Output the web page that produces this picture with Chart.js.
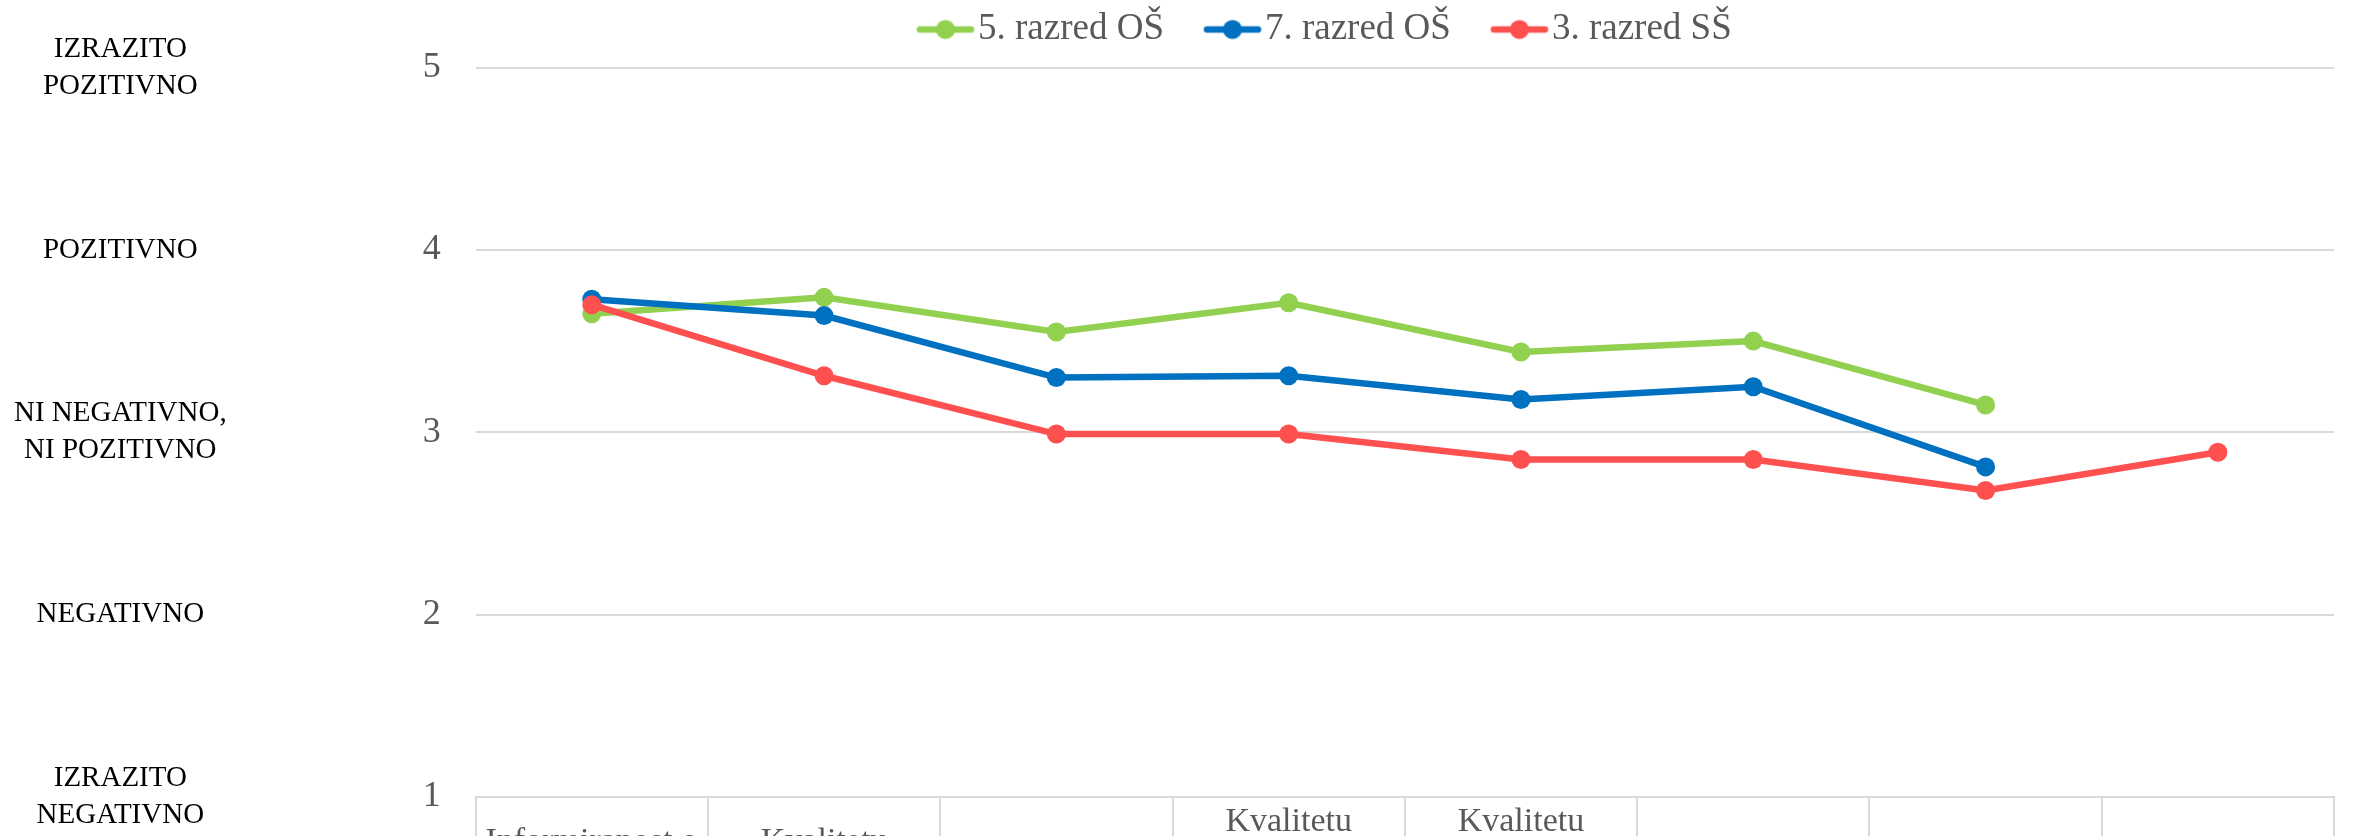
<!DOCTYPE html>
<html>
<head>
<meta charset="utf-8">
<script src="https://cdn.jsdelivr.net/npm/chart.js@4.4.0/dist/chart.umd.min.js"></script>
<style>
  html, body { margin: 0; padding: 0; background: #fff; overflow: hidden; }
  #wrap { position: relative; width: 2356px; height: 950px; }
</style>
</head>
<body>
<div id="wrap"><canvas id="lineChart"></canvas></div>
<script>
// =====================
// DATA
// =====================
// category labels are cut off by the bottom edge, only the first lines show
const categories = [
  ["Informiranost o", "", ""],
  ["Kvalitetu", "", ""],
  ["", ""],
  ["Kvalitetu", "", "", ""],
  ["Kvalitetu", "", "", ""],
  ["", ""],
  ["", ""],
  ["", ""]
];
const seriesNames = ["5. razred OŠ", "7. razred OŠ", "3. razred SŠ"];
const grade5 = [3.65, 3.74, 3.55, 3.71, 3.44, 3.50, 3.15, null];
const grade7 = [3.73, 3.64, 3.30, 3.31, 3.18, 3.25, 2.81, null];
const grade3ss = [3.70, 3.31, 2.99, 2.99, 2.85, 2.85, 2.68, 2.89];
const scaleTicks = [1, 2, 3, 4, 5];
const levelLabels = [
  ["IZRAZITO", "NEGATIVNO"],
  ["NEGATIVNO"],
  ["NI NEGATIVNO,", "NI POZITIVNO"],
  ["POZITIVNO"],
  ["IZRAZITO", "POZITIVNO"]
];

const colors = ["#92D050", "#0070C0", "#FF5050"];
const gridColor = "#D9D9D9";
const textGray = "#595959";

Chart.defaults.font.family = "'Liberation Serif', 'DejaVu Serif', serif";

// legend marker: short line with a dot, like the Excel legend
function makeMarker(color) {
  const c = document.createElement("canvas");
  c.width = 110;
  c.height = 24;
  const g = c.getContext("2d");
  const a = 48.25;
  g.strokeStyle = color;
  g.lineWidth = 6.5;
  g.lineCap = "round";
  g.beginPath();
  g.moveTo(a + 3, 12);
  g.lineTo(a + 54, 12);
  g.stroke();
  g.fillStyle = color;
  g.beginPath();
  g.arc(a + 28.5, 12, 9.5, 0, Math.PI * 2);
  g.fill();
  return c;
}
const markers = colors.map(makeMarker);

// legend needs some air below it and sits off-centre in the original
const legendTweak = {
  id: "legendTweak",
  afterInit(chart) {
    const legend = chart.legend;
    const fit = legend.fit;
    legend.fit = function () {
      fit.call(this);
      this.height += 9.7;
    };
  },
  afterLayout(chart) {
    chart.legend.left = 877;
  }
};

const ctx = document.getElementById("lineChart").getContext("2d");

const lineChart = new Chart(ctx, {
  type: "line",
  data: {
    labels: categories,
    datasets: [grade5, grade7, grade3ss].map((data, i) => ({
      label: seriesNames[i],
      data,
      borderColor: colors[i],
      backgroundColor: colors[i],
      pointBackgroundColor: colors[i],
      pointBorderColor: colors[i],
      borderWidth: 6.5,
      pointRadius: 9.5,
      pointBorderWidth: 0,
      tension: 0,
      fill: false,
      order: 3 - i
    }))
  },
  options: {
    responsive: true,
    maintainAspectRatio: false,
    animation: false,
    layout: { padding: { left: 0, right: 22, top: 0, bottom: 0 } },
    plugins: {
      tooltip: { enabled: false },
      legend: {
        position: "top",
        align: "start",
        labels: {
          font: { size: 37 },
          color: textGray,
          padding: 11,
          usePointStyle: true,
          pointStyleWidth: 71.5,
          sort: (a, b) => a.datasetIndex - b.datasetIndex,
          generateLabels: chart => {
            const items = Chart.defaults.plugins.legend.labels.generateLabels(chart);
            items.forEach(it => { it.pointStyle = markers[it.datasetIndex]; });
            return items;
          }
        }
      }
    },
    scales: {
      x: {
        offset: true,
        border: { display: true, color: gridColor, width: 2 },
        grid: {
          offset: true,
          color: gridColor,
          lineWidth: 2,
          drawOnChartArea: false,
          drawTicks: true,
          tickLength: 60
        },
        ticks: {
          autoSkip: false,
          maxRotation: 0,
          minRotation: 0,
          crossAlign: "center",
          padding: -35,
          color: textGray,
          font: { size: 34, lineHeight: 1.2 }
        }
      },
      y: {
        position: "left",
        weight: 0,
        min: scaleTicks[0],
        max: scaleTicks[scaleTicks.length - 1],
        border: { display: false },
        grid: { color: gridColor, lineWidth: 2, drawTicks: false },
        afterFit: scale => { scale.width = 235; },
        ticks: {
          stepSize: 1,
          padding: 35,
          color: textGray,
          font: { size: 36 }
        }
      },
      yText: {
        type: "linear",
        position: "left",
        weight: 1,
        min: scaleTicks[0],
        max: scaleTicks[scaleTicks.length - 1],
        border: { display: false },
        grid: { display: false, drawTicks: false },
        ticks: {
          stepSize: 1,
          crossAlign: "center",
          padding: 14,
          color: "#000000",
          font: { size: 29, lineHeight: "37px" },
          callback: value => levelLabels[value - 1]
        }
      }
    }
  },
  plugins: [legendTweak]
});
</script>
</body>
</html>
